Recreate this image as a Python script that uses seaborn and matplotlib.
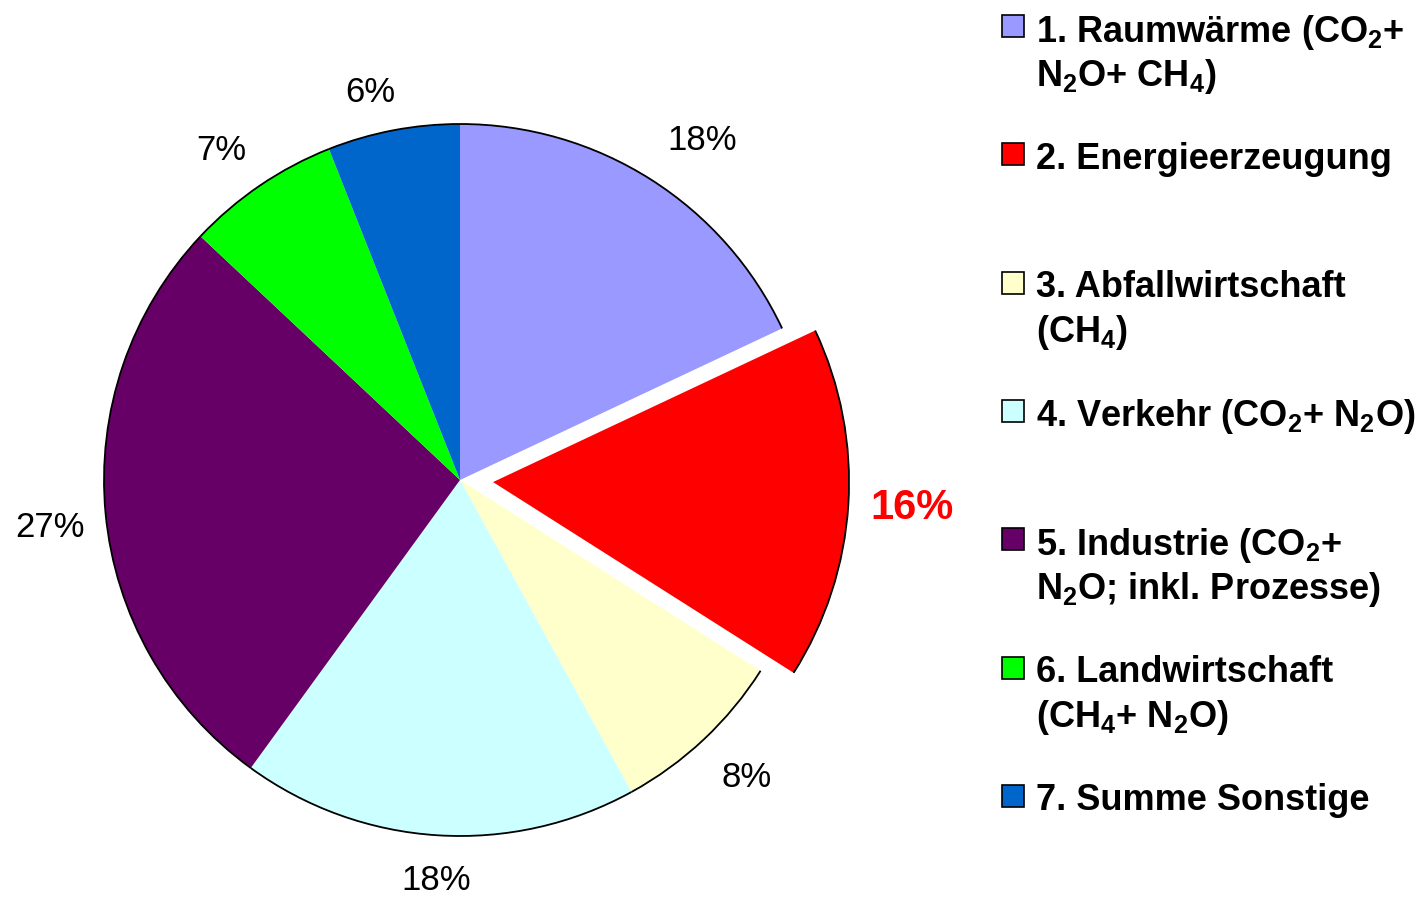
import matplotlib
matplotlib.use("Agg")
import matplotlib.pyplot as plt
from matplotlib.patches import Arc, Rectangle
import seaborn as sns

# data
sectors = ["Raumwärme", "Energieerzeugung", "Abfallwirtschaft", "Verkehr",
           "Industrie", "Landwirtschaft", "Summe Sonstige"]
shares = [18, 16, 8, 18, 27, 7, 6]
colors = ["#9999FF", "#FF0000", "#FFFFCC", "#CCFFFF", "#660066", "#00FF00", "#0066CC"]
legend_lines = [
    ["1. Raumwärme (CO$_2$+", "N$_2$O+ CH$_4$)"],
    ["2. Energieerzeugung"],
    ["3. Abfallwirtschaft", "(CH$_4$)"],
    ["4. Verkehr (CO$_2$+ N$_2$O)"],
    ["5. Industrie (CO$_2$+", "N$_2$O; inkl. Prozesse)"],
    ["6. Landwirtschaft", "(CH$_4$+ N$_2$O)"],
    ["7. Summe Sonstige"],
]
explode = [0, 0.093, 0, 0, 0, 0, 0]
# small pixel nudges (right, down) so the labels sit like the original
label_nudge = [(25, 3), (14, 0), (9, 2), (2, -5), (-6, 9), (-11, 6), (-14, 11)]

sns.set_style("white")
plt.rcParams['font.family'] = ['Liberation Sans', 'DejaVu Sans']
plt.rcParams['text.color'] = 'black'
plt.rcParams['mathtext.fontset'] = 'custom'
plt.rcParams['mathtext.rm'] = 'Liberation Sans:bold'
plt.rcParams['mathtext.it'] = 'Liberation Sans:bold'
plt.rcParams['mathtext.bf'] = 'Liberation Sans:bold'

W, H = 1426, 900
fig = plt.figure(figsize=(W / 100, H / 100), dpi=100)
R = 356
ax = fig.add_axes([0, 0, 920 / W, 840 / H])

wedges, texts, autotexts = ax.pie(shares, colors=colors, startangle=90, counterclock=False,
                                  explode=explode, autopct='%.0f%%', pctdistance=1.14,
                                  wedgeprops=dict(linewidth=0),
                                  textprops=dict(fontsize=25, color='black'))
ax.set_xlim(-460 / R, 460 / R)
ax.set_ylim(-420 / R, 420 / R)
ax.set_aspect('auto')
ax.axis('off')

# thin black outline on the outer arc only
for w in wedges:
    ax.add_patch(Arc(w.center, 2 * w.r, 2 * w.r, theta1=w.theta1, theta2=w.theta2,
                     color='black', lw=1.3))

for t, (dx, dy) in zip(autotexts, label_nudge):
    x, y = t.get_position()
    t.set_position((x + dx / R, y - dy / R))

autotexts[1].set_color('#FF0000')
autotexts[1].set_fontweight('bold')
autotexts[1].set_fontsize(30)

# legend drawn by hand: each entry sits in an equal slot
top = 27
step = 128.3
line_h = 44
for i, lines in enumerate(legend_lines):
    y0 = top + i * step
    fig.patches.append(Rectangle((1002 / W, 1 - (y0 + 10) / H), 22 / W, 22 / H,
                                 transform=fig.transFigure, facecolor=colors[i],
                                 edgecolor='black', lw=1.2))
    for j, txt in enumerate(lines):
        fig.text(1036 / W, 1 - (y0 + j * line_h) / H, txt, fontsize=26, fontweight='bold',
                 ha='left', va='center_baseline')

fig.savefig("out.png", dpi=100)
